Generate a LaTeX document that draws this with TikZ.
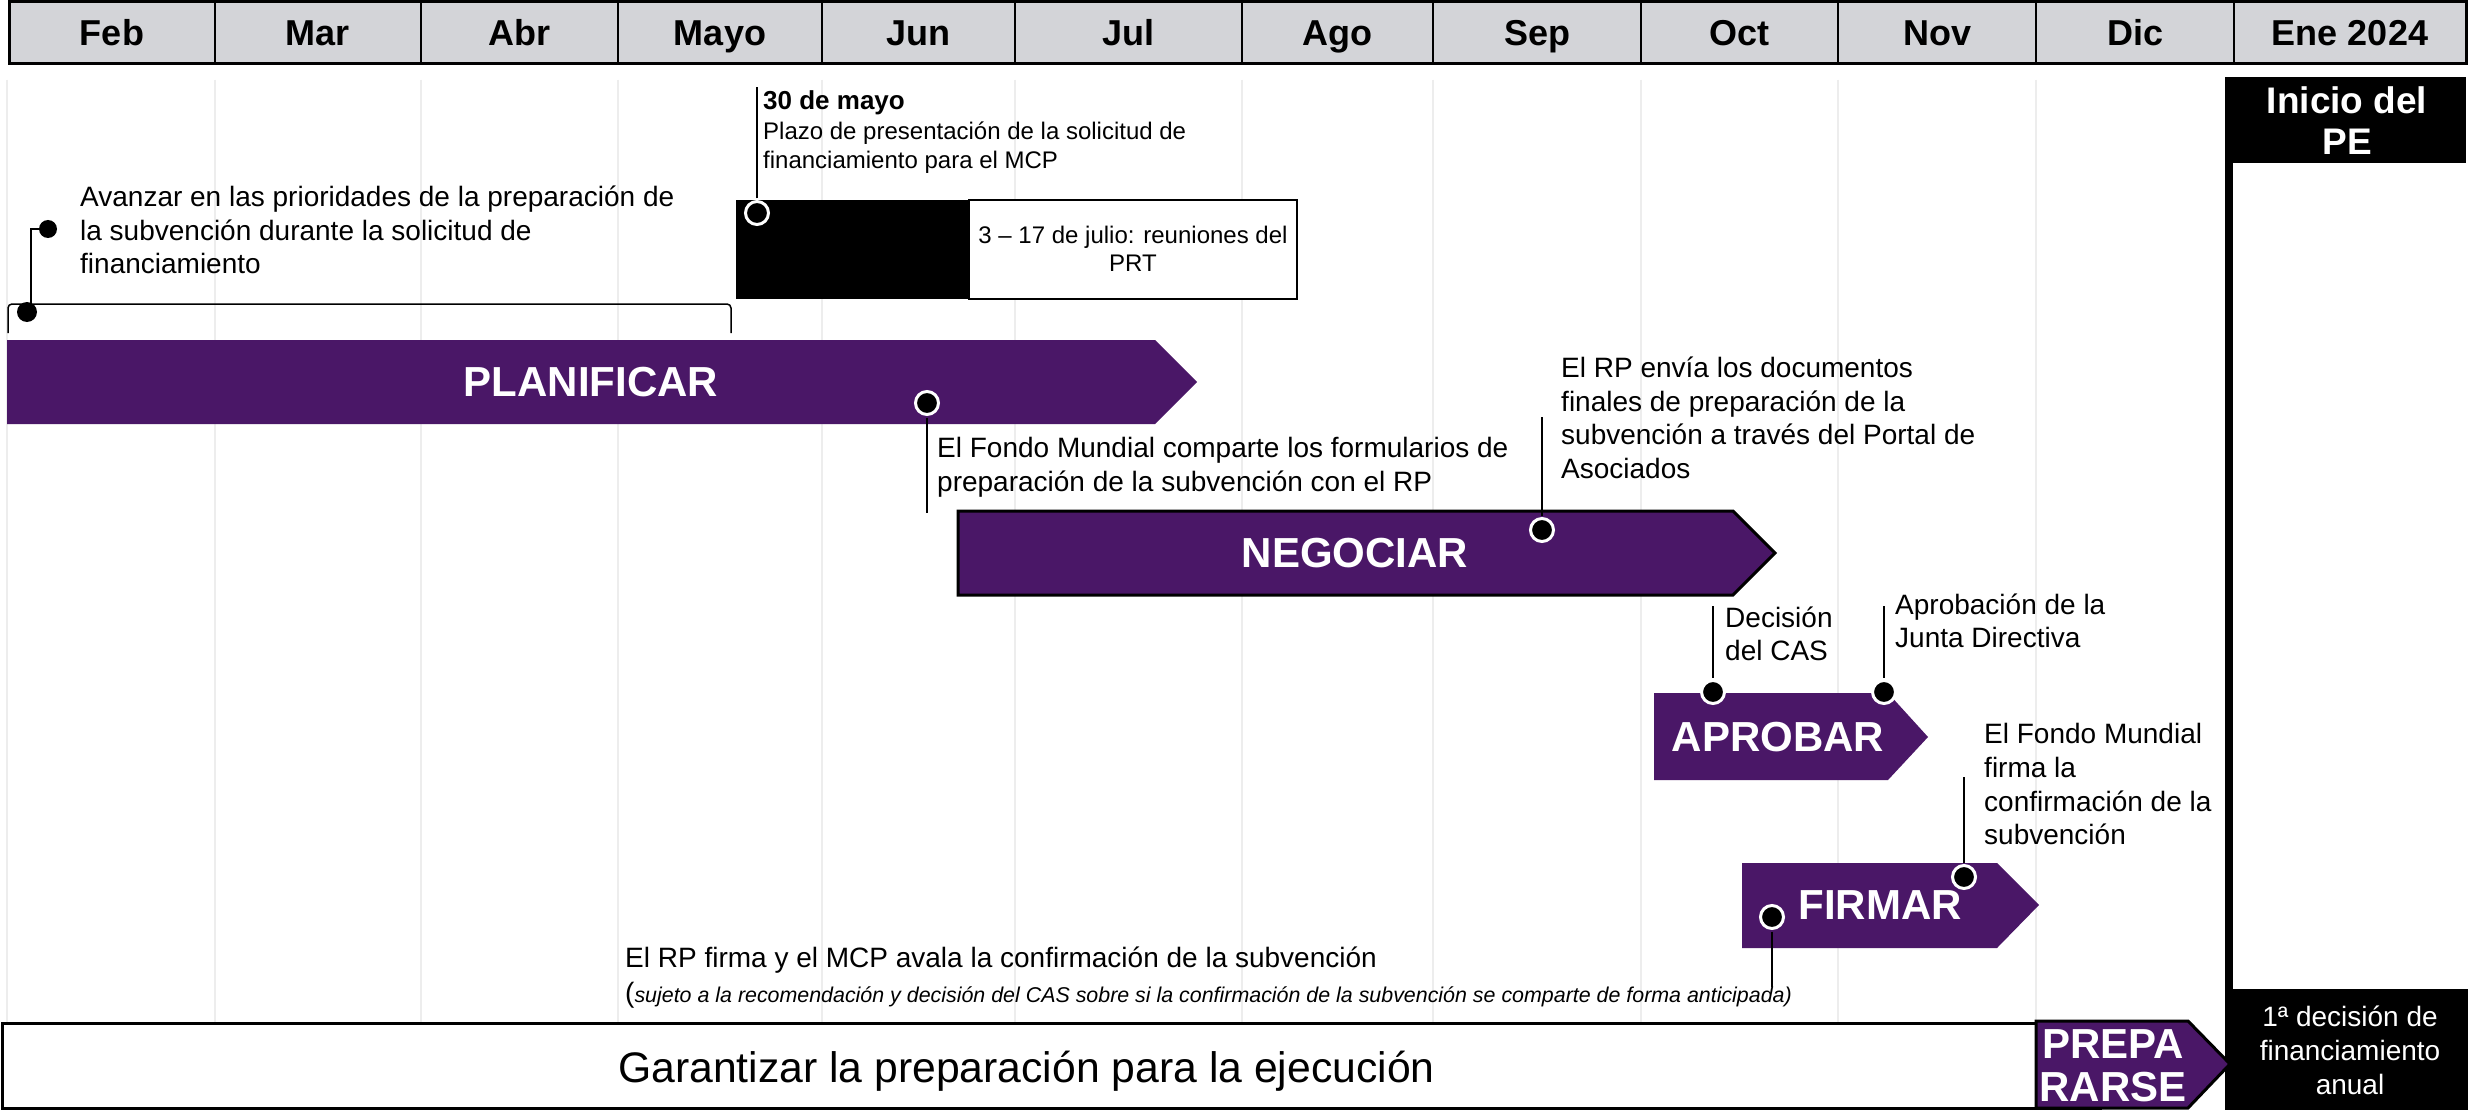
\documentclass[tikz,border=0pt]{standalone}
\usepackage{fontspec}
\setmainfont{Liberation Sans}
\definecolor{purp}{HTML}{4A1767}
\definecolor{hdr}{HTML}{D3D4D8}
\definecolor{gridc}{HTML}{EDEDED}
\newcommand{\tst}{\rule{0pt}{0.8em}}
\begin{document}
\begin{tikzpicture}[x=1pt,y=-1pt,
  month/.style={anchor=base, inner sep=0, font=\bfseries\fontsize{36}{40}\selectfont},
  phaselbl/.style={inner sep=0, text=white, align=center, font=\bfseries\fontsize{42}{43}\selectfont},
  mk/.style={circle, fill=black, draw=white, line width=3pt, minimum size=23pt, inner sep=0},
  dot/.style={circle, fill=black, inner sep=0},
  conn/.style={line width=1.5pt},
  gridl/.style={draw=gridc, line width=1.5pt},
  txt/.style={anchor=north west, inner sep=0, align=left, font=\fontsize{28}{33.5}\selectfont},
  stxt/.style={anchor=north west, inner sep=0, align=left, font=\fontsize{24}{29}\selectfont},
  phasefill/.style={fill=purp},
  phaseborder/.style={fill=purp, draw=black, line width=3pt, line join=miter}
]
\useasboundingbox (0,0) rectangle (2468,1110);
\fill[white] (0,0) rectangle (2468,1110);

% faint grid lines
\foreach \x in {7,215,421,618,822,1015,1242,1433,1641,1838,2036}
  \draw[gridl] (\x,80) -- (\x,1022);

% header
\draw[line width=3pt, fill=hdr] (9,2) rectangle (2466,64);
\foreach \x in {215,421,618,822,1015,1242,1433,1641,1838,2036,2234}
  \draw[line width=2.5pt] (\x,2) -- (\x,64);
\foreach \n/\x/\t in {feb/112/Feb, mar/318/Mar, abr/519.5/Abr, may/720/Mayo, jun/918.5/Jun, jul/1128.5/Jul, ago/1337.5/Ago, sep/1537/Sep, oct/1739.5/Oct, nov/1937/Nov, dic/2135/Dic, ene/2350/Ene 2024}
  \node[month] (m\n) at (\x,46) {\t};

% Ene 2024 column
\fill[black] (2225,77) rectangle (2233,1110);
\fill[black] (2227,77) rectangle (2466,163);
\node[inner sep=0, text=white, align=center, font=\bfseries\fontsize{37}{41}\selectfont] (inicio) at (2347,121) {Inicio del\\PE};
\fill[black] (2231,989) rectangle (2468,1110);
\node[inner sep=0, text=white, align=center, font=\fontsize{28}{34}\selectfont] (decfin) at (2350,1050) {1ª decisión de\\financiamiento\\anual};

% bracket and Avanzar
\draw[conn, rounded corners=4pt] (8,333) -- (8,304) -- (731,304) -- (731,333);
\node[dot, minimum size=20pt] (d1) at (27,312) {};
\node[dot, minimum size=18pt] (d2) at (48,229) {};
\draw[conn] ([xshift=4pt]d1.center) |- (d2);
\node[txt] (avanzar) at (80,184) {\tst Avanzar en las prioridades de la preparación de\\la subvención durante la solicitud de\\financiamiento};

% 30 de mayo
\fill[black] (736,200) rectangle (969,299);
\draw[line width=2.5pt, fill=white] (969,200) rectangle (1297,299);
\node[inner sep=0, align=center, anchor=north, font=\fontsize{24}{28}\selectfont] (prt) at (1133,224) {\tst 3 – 17 de julio: reuniones del\\PRT};
\node[mk] (m30) at (757,213) {};
\coordinate (m30top) at (757,87);
\draw[conn, shorten <=1.5pt] (m30) -- (m30top);
\node[anchor=base west, inner sep=0, font=\bfseries\fontsize{26}{30}\selectfont] (mayo30) at (763,110) {30 de mayo};
\node[stxt] (plazo) at (763,120) {\tst Plazo de presentación de la solicitud de\\financiamiento para el MCP};

% PLANIFICAR
\fill[phasefill] (7,340) -- (1155,340) -- (1197,382) -- (1155,424) -- (7,424) -- cycle;
\node[phaselbl] (planificar) at (591,382) {PLANIFICAR};
\node[mk] (mplan) at (927,403) {};
\coordinate (mplanbot) at (927,513);
\draw[conn, shorten <=1.5pt] (mplan) -- (mplanbot);
\node[txt, font=\fontsize{28}{34}\selectfont] (fondo1) at (937,435) {\tst El Fondo Mundial comparte los formularios de\\preparación de la subvención con el RP};

% NEGOCIAR
\filldraw[phaseborder] (958,511) -- (1733,511) -- (1775,553) -- (1733,595) -- (958,595) -- cycle;
\node[phaselbl] (negociar) at (1355,553) {NEGOCIAR};
\node[mk] (mneg) at (1542,530) {};
\coordinate (mnegtop) at (1542,417);
\draw[conn, shorten <=1.5pt] (mneg) -- (mnegtop);
\node[txt] (rpenvia) at (1561,355) {\tst El RP envía los documentos\\finales de preparación de la\\subvención a través del Portal de\\Asociados};

% APROBAR
\fill[phasefill] (1654,693) -- (1888,693) -- (1928,737) -- (1888,780) -- (1654,780) -- cycle;
\node[phaselbl] (aprobar) at (1778,737) {APROBAR};
\node[mk] (mcas) at (1713,692) {};
\node[mk] (mjd) at (1884,692) {};
\coordinate (mcastop) at (1713,606);
\coordinate (mjdtop) at (1884,606);
\draw[conn, shorten <=1.5pt] (mcas) -- (mcastop);
\draw[conn, shorten <=1.5pt] (mjd) -- (mjdtop);
\node[txt, font=\fontsize{28}{33}\selectfont] (cas) at (1725,605) {\tst Decisión\\del CAS};
\node[txt, font=\fontsize{28}{33}\selectfont] (junta) at (1895,592) {\tst Aprobación de la\\Junta Directiva};

% FIRMAR
\fill[phasefill] (1742,863) -- (1997,863) -- (2039,905) -- (1997,948) -- (1742,948) -- cycle;
\node[phaselbl] (firmar) at (1880,905) {FIRMAR};
\node[mk] (mf1) at (1964,877) {};
\coordinate (mf1top) at (1964,777);
\draw[conn, shorten <=1.5pt] (mf1) -- (mf1top);
\node[txt, font=\fontsize{28}{33.7}\selectfont] (fondo2) at (1984,721) {\tst El Fondo Mundial\\firma la\\confirmación de la\\subvención};
\node[mk] (mf2) at (1772,917) {};
\coordinate (mf2bot) at (1772,987);
\draw[conn, shorten <=1.5pt] (mf2) -- (mf2bot);
\node[anchor=base west, inner sep=0, font=\fontsize{28}{33}\selectfont] (rpfirma) at (625,967) {El RP firma y el MCP avala la confirmación de la subvención};
\node[anchor=base west, inner sep=0] (sujeto) at (625,1002) {{\fontsize{28}{33}\selectfont(}{\itshape\fontsize{21.4}{25}\selectfont sujeto a la recomendación y decisión del CAS sobre si la confirmación de la subvención se comparte de forma anticipada)}};

% bottom bar
\draw[line width=3pt, fill=white] (2,1023) rectangle (2100,1108);
\node[anchor=base, inner sep=0, font=\fontsize{42.7}{46}\selectfont] (garantizar) at (1026.5,1082) {Garantizar la preparación para la ejecución};
\filldraw[phaseborder] (2036,1021) -- (2188,1021) -- (2230,1064) -- (2188,1108) -- (2036,1108) -- cycle;
\node[phaselbl] (prepararse) at (2113,1066) {PREPA\\RARSE};
\end{tikzpicture}
\end{document}
